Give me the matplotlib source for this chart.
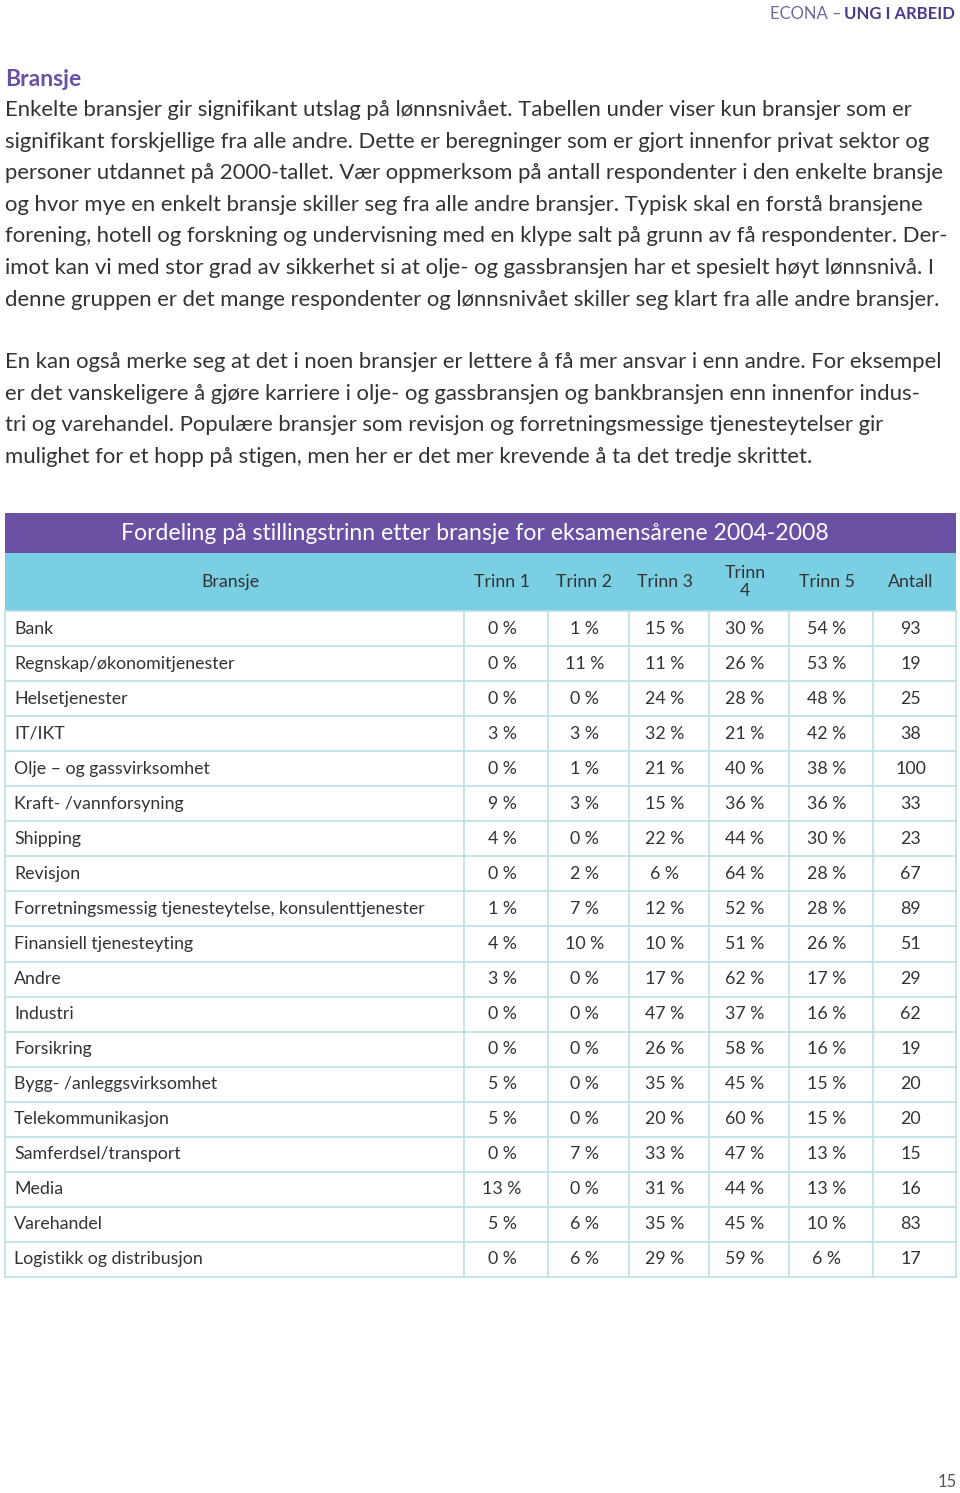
import matplotlib.pyplot as plt
from matplotlib.patches import Rectangle

# Table data
bransjer = [
    "Bank", "Regnskap/økonomitjenester", "Helsetjenester", "IT/IKT",
    "Olje – og gassvirksomhet", "Kraft- /vannforsyning", "Shipping", "Revisjon",
    "Forretningsmessig tjenesteytelse, konsulenttjenester", "Finansiell tjenesteyting",
    "Andre", "Industri", "Forsikring", "Bygg- /anleggsvirksomhet", "Telekommunikasjon",
    "Samferdsel/transport", "Media", "Varehandel", "Logistikk og distribusjon",
]
trinn1 = [0, 0, 0, 3, 0, 9, 4, 0, 1, 4, 3, 0, 0, 5, 5, 0, 13, 5, 0]
trinn2 = [1, 11, 0, 3, 1, 3, 0, 2, 7, 10, 0, 0, 0, 0, 0, 7, 0, 6, 6]
trinn3 = [15, 11, 24, 32, 21, 15, 22, 6, 12, 10, 17, 47, 26, 35, 20, 33, 31, 35, 29]
trinn4 = [30, 26, 28, 21, 40, 36, 44, 64, 52, 51, 62, 37, 58, 45, 60, 47, 44, 45, 59]
trinn5 = [54, 53, 48, 42, 38, 36, 30, 28, 28, 26, 17, 16, 16, 15, 15, 13, 13, 10, 6]
antall = [93, 19, 25, 38, 100, 33, 23, 67, 89, 51, 29, 62, 19, 20, 20, 15, 16, 83, 17]
kolonner = ["Bransje", "Trinn 1", "Trinn 2", "Trinn 3", "Trinn\n4", "Trinn 5", "Antall"]

tittel = "Fordeling på stillingstrinn etter bransje for eksamensårene 2004-2008"
avsnitt1 = [
    "Enkelte bransjer gir signifikant utslag på lønnsnivået. Tabellen under viser kun bransjer som er",
    "signifikant forskjellige fra alle andre. Dette er beregninger som er gjort innenfor privat sektor og",
    "personer utdannet på 2000-tallet. Vær oppmerksom på antall respondenter i den enkelte bransje",
    "og hvor mye en enkelt bransje skiller seg fra alle andre bransjer. Typisk skal en forstå bransjene",
    "forening, hotell og forskning og undervisning med en klype salt på grunn av få respondenter. Der-",
    "imot kan vi med stor grad av sikkerhet si at olje- og gassbransjen har et spesielt høyt lønnsnivå. I",
    "denne gruppen er det mange respondenter og lønnsnivået skiller seg klart fra alle andre bransjer.",
]
avsnitt2 = [
    "En kan også merke seg at det i noen bransjer er lettere å få mer ansvar i enn andre. For eksempel",
    "er det vanskeligere å gjøre karriere i olje- og gassbransjen og bankbransjen enn innenfor indus-",
    "tri og varehandel. Populære bransjer som revisjon og forretningsmessige tjenesteytelser gir",
    "mulighet for et hopp på stigen, men her er det mer krevende å ta det tredje skrittet.",
]

PURPLE = "#6a51a3"
CYAN = "#7acfe3"
GRID = "#b9e0e6"
TEXT = "#333333"

plt.rcParams['font.family'] = ['Lato', 'DejaVu Sans']

fig = plt.figure(figsize=(9.6, 14.93), dpi=100)
ax = fig.add_axes([0, 0, 1, 1])
ax.set_xlim(0, 960)
ax.set_ylim(1493, 0)
ax.axis('off')

# page header: bold part right-aligned, light part placed to its left
bold = ax.text(955, 14, "UNG I ARBEID", ha='right', va='center', fontsize=12,
               fontweight='bold', color="#4b3a8c")
renderer = fig.canvas.get_renderer()
bb = bold.get_window_extent(renderer)
ax.text(bb.x0 - 3, 14, "ECONA –", ha='right', va='center', fontsize=12, color="#6f6a9a")

# section heading + body text
ax.text(5, 79, "Bransje", ha='left', va='center', fontsize=16.5, fontweight='bold', color=PURPLE)
for i, line in enumerate(avsnitt1):
    ax.text(5, 110 + i * 31.6, line, ha='left', va='center', fontsize=15.9, color=TEXT)
for i, line in enumerate(avsnitt2):
    ax.text(5, 362 + i * 31.6, line, ha='left', va='center', fontsize=15.9, color=TEXT)

# table layout
col_edges = [5, 464, 548, 629, 709, 789, 873, 956]
title_top, head_top, body_top, body_bot = 513, 553, 611, 1277
row_h = (body_bot - body_top) / len(bransjer)

ax.add_patch(Rectangle((col_edges[0], title_top), col_edges[-1] - col_edges[0],
                       head_top - title_top, color=PURPLE, lw=0))
ax.add_patch(Rectangle((col_edges[0], head_top), col_edges[-1] - col_edges[0],
                       body_top - head_top, color=CYAN, lw=0))
ax.text(475, 533, tittel, ha='center', va='center', fontsize=16.6, color='white')

head_mid = (head_top + body_top) / 2
for j, name in enumerate(kolonner):
    cx = (col_edges[j] + col_edges[j + 1]) / 2 - 4
    ax.text(cx, head_mid, name, ha='center', va='center', fontsize=12.8,
            color=TEXT, linespacing=1.2)

# grid lines
for i in range(len(bransjer) + 1):
    y = body_top + i * row_h
    ax.plot([col_edges[0], col_edges[-1]], [y, y], color=GRID, lw=1.2)
for x in col_edges:
    ax.plot([x, x], [body_top, body_bot], color=GRID, lw=1.2)

kolonne_verdier = [trinn1, trinn2, trinn3, trinn4, trinn5]
for i, navn in enumerate(bransjer):
    cy = body_top + (i + 0.5) * row_h
    ax.text(14, cy, navn, ha='left', va='center', fontsize=12.8, color=TEXT)
    for j, vals in enumerate(kolonne_verdier):
        cx = (col_edges[j + 1] + col_edges[j + 2]) / 2 - 4
        ax.text(cx, cy, f"{vals[i]} %", ha='center', va='center', fontsize=12.8, color=TEXT)
    cx = (col_edges[6] + col_edges[7]) / 2 - 4
    ax.text(cx, cy, str(antall[i]), ha='center', va='center', fontsize=12.8, color=TEXT)

# page number
ax.text(947, 1482, "15", ha='center', va='center', fontsize=12, color="#555555")

fig.savefig("out.png", dpi=100)
